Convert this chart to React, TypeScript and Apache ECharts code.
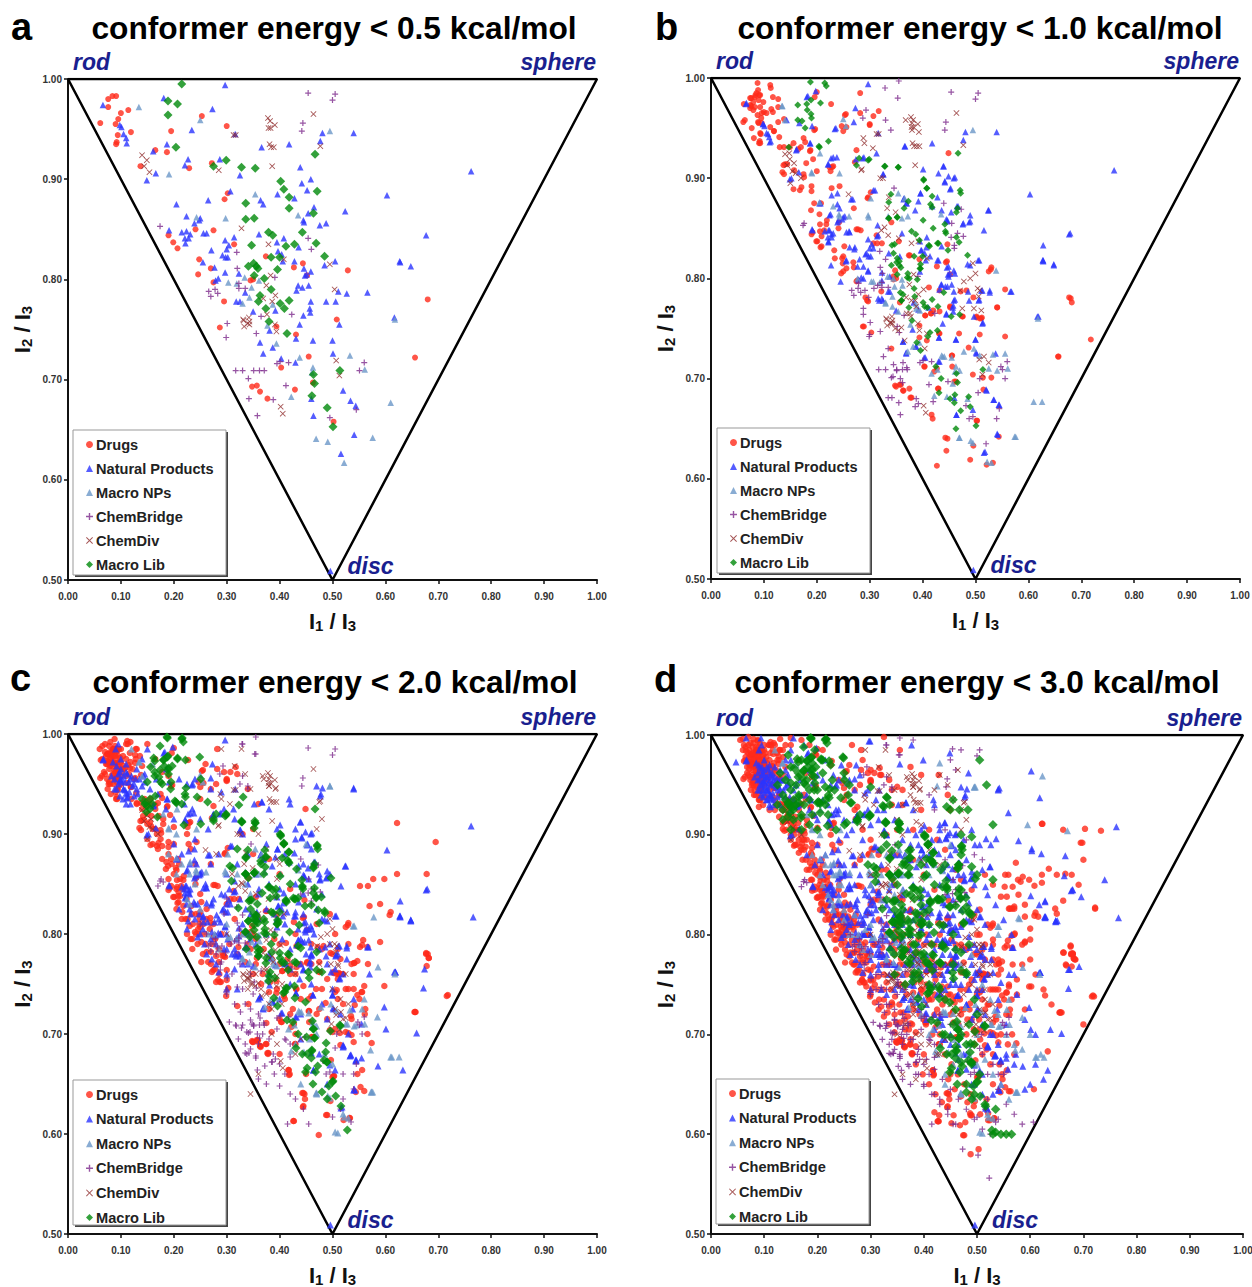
import React, { useEffect, useRef } from "react";
import * as echarts from "echarts";

// All marks: flat x,y pairs in thousandths. Each energy window adds to the one before it.
const drugsA = [61,956,76,972,76,980,84,983,91,983,114,969,100,966,95,960,90,955,119,947,94,944,91,935,92,937,165,929,187,927,137,913,195,948,253,963,300,953,272,916,229,911,302,886,296,880,241,850,275,849,190,844,199,837,207,831,314,835,248,820,270,811,246,805,275,797,295,778,374,823,345,799,350,800,427,812,444,816,452,804,529,809,508,760,287,752,394,753,431,745,455,723,403,712,357,694,348,693,363,688,377,681,429,690,463,697,502,658,656,722,680,780];
const npA = [66,974,181,981,297,994,273,970,234,949,98,954,101,952,105,945,110,941,111,936,161,928,187,935,227,920,221,914,166,906,149,899,287,920,325,904,316,945,366,932,418,935,481,946,477,938,540,946,439,912,442,896,459,900,452,889,603,884,307,888,265,879,364,879,369,875,396,885,428,881,465,872,454,866,445,859,446,857,488,856,476,854,524,868,205,875,224,863,250,861,248,859,239,856,191,849,215,847,224,848,231,845,221,841,228,841,222,836,256,846,262,846,271,829,297,839,314,842,304,834,300,830,292,824,298,822,302,822,361,845,408,841,395,837,436,832,397,828,404,825,406,818,428,818,255,817,277,812,297,807,284,801,279,799,323,806,335,787,432,789,435,794,443,792,455,794,446,811,451,805,448,804,459,808,485,814,505,818,511,788,527,786,566,787,627,818,488,778,506,778,459,778,457,771,458,767,318,778,325,778,350,768,392,769,445,764,617,762,762,908,677,844,628,817,648,813,438,755,381,749,431,741,463,739,500,739,513,755,363,737,387,732,369,726,403,721,430,717,501,726,520,689,534,679,544,674,460,681,464,664,541,645,516,626,496,509];
const mnpA = [134,972,250,959,495,948,191,905,354,885,243,862,298,861,435,864,303,797,319,796,334,802,347,792,361,799,343,782,330,776,387,775,618,760,377,754,394,736,438,722,533,724,463,712,461,707,561,710,422,683,610,677,576,642,469,641,491,638,522,617];
const cbA = [454,986,505,985,500,979,444,956,442,948,174,853,454,841,460,830,319,827,320,811,391,802,266,788,270,783,278,790,283,786,323,796,323,791,335,791,365,763,423,765,301,756,299,742,356,746,395,716,401,718,417,717,317,709,330,709,351,709,362,709,371,709,341,701,412,694,342,681,388,680,358,664,495,662,560,717,551,709,545,670];
const cdA = [464,965,378,961,382,958,391,954,379,951,383,951,313,944,317,944,381,935,384,932,389,932,477,933,140,924,149,919,144,913,154,907,285,909,386,913,328,851,379,835,408,820,495,815,383,804,375,794,504,790,392,784,369,781,386,778,376,765,331,760,342,762,332,759,343,758,340,756,333,753,343,755,391,755,394,748,507,719,513,704,402,673,406,666];
const libA = [215,995,189,978,207,975,189,964,204,932,275,913,299,919,328,912,354,911,467,925,402,898,408,890,418,882,471,888,418,871,464,866,336,876,336,860,352,861,379,847,387,844,443,847,469,836,428,835,412,833,347,834,384,822,400,822,485,823,341,813,351,816,356,813,359,811,396,810,352,804,371,801,384,790,363,784,360,778,374,771,401,776,418,779,409,771,380,758,414,746,464,705,514,709,466,696,461,684,490,672,501,653];

const drugsB = [88,995,112,993,113,990,89,988,86,985,74,980,83,981,93,983,80,976,90,978,99,976,117,981,127,979,62,974,74,973,83,971,93,971,105,965,117,966,127,971,80,968,88,963,96,965,74,970,89,956,64,958,77,950,96,955,112,951,127,956,138,959,119,947,93,945,81,940,93,935,129,941,130,931,138,931,149,931,156,935,175,940,178,936,188,928,170,931,227,974,200,986,196,981,282,985,255,964,282,965,307,962,317,967,300,954,247,952,256,951,250,947,197,949,275,928,449,925,193,919,180,915,140,914,135,906,138,904,144,914,157,908,175,904,176,901,200,907,226,907,231,912,224,911,156,889,171,891,190,892,190,887,168,888,228,890,243,892,195,875,208,875,189,868,205,864,270,870,297,881,219,858,218,854,206,854,192,846,206,847,214,848,201,837,209,842,209,832,233,828,234,820,252,832,250,822,242,856,278,849,283,848,313,843,307,835,323,835,355,837,341,856,447,834,376,823,394,819,446,817,249,815,269,816,256,810,250,807,348,808,345,802,277,798,530,811,525,807,412,791,432,788,472,787,483,788,496,781,556,789,292,781,297,777,452,772,541,771,420,768,405,763,416,765,476,762,502,762,512,761,677,781,682,776,289,752,303,746,718,739,657,722,556,742,541,771,341,730,350,692,359,694,364,688,375,690,379,681,404,712,422,707,427,710,456,712,456,723,430,690,460,697,495,704,514,701,530,701,515,689,417,664,419,660,503,658,443,641,447,640,445,628,427,613,496,633,490,619,521,614,533,616,544,642,487,731,508,744,469,745,432,745,408,738,394,741,475,762,502,761,511,760,405,763,416,765,432,767,452,771,357,776,322,787];
const npB = [198,987,183,982,67,975,143,958,167,955,191,952,99,954,108,944,113,937,236,950,270,956,188,935,162,929,231,921,238,921,274,919,289,921,313,925,367,932,222,914,152,900,326,904,401,909,440,912,430,905,449,902,461,901,442,897,453,890,228,883,239,885,268,879,239,874,243,870,207,875,226,864,253,862,241,858,310,888,365,880,370,875,392,877,386,868,396,885,418,872,436,868,447,858,477,855,490,857,490,863,467,872,525,868,516,848,679,845,628,833,628,818,648,814,192,848,222,848,228,844,222,837,261,847,315,853,316,843,262,831,272,831,294,825,307,830,336,825,357,822,407,831,398,828,414,822,430,818,507,818,490,813,227,813,256,818,281,819,288,812,297,808,288,800,245,797,323,798,338,802,395,807,449,812,461,805,449,802,436,794,447,792,459,787,486,787,513,788,527,788,568,787,338,787,316,780,323,780,383,776,461,779,507,779,411,771,458,773,445,765,497,762,514,756,619,762,431,741,405,721,432,717,369,725,363,737,388,732,463,739,500,739,502,725,538,725,521,688,535,679,545,674,464,664,495,669,542,644,518,627];
const mnpB = [135,972,140,958,206,925,255,952,190,906,243,905,302,880,366,880,231,872,205,876,242,864,261,862,297,863,335,862,361,860,372,862,539,808,277,800,307,797,345,800,362,793,330,775,343,772,354,767,388,770,395,768,497,730,478,727,436,723,455,721,441,722,372,727,382,732,417,705,428,709,470,708,457,695,446,682,485,680,508,723,556,725,626,677,541,708,525,710,470,641,495,636,574,642,530,616];
const cbB = [355,997,329,990,353,980,293,968,287,960,330,958,340,948,176,855,346,890,440,875,473,869,455,855,466,845,477,842,460,833,330,819,324,805,315,793,279,795,291,788,298,781,308,790,288,770,288,764,320,747,300,744,352,752,335,730,326,722,345,714,363,716,370,711,344,702,351,708,358,700,362,696,335,681,355,676,392,675,420,677,448,697,508,700,548,712,556,700,505,686,482,673,386,672,488,660,520,635,540,660];
const cdB = [288,940,306,930,290,935,368,958,380,955,393,946,380,948,394,932,148,925,157,915,170,900,160,905,150,895,320,900,284,908,336,881,325,900,333,870,349,866,260,884,355,840,322,848,335,843,392,837,500,805,490,800,478,797,471,788,402,789,508,788,506,782,497,770,511,768,379,778,388,772,370,765,378,762,340,755,348,750,354,748,366,738,360,751,408,745,404,730,475,770,516,722,525,716];
const libB = [188,996,218,992,164,973,181,974,182,968,164,958,172,957,190,960,178,950,222,937,205,931,147,931,280,920,297,918,329,912,354,911,402,899,408,890,472,885,340,884,373,877,365,870,336,860,352,861,415,874,401,858,420,850,466,870,442,854,464,841,444,845,448,828,430,835,342,833,394,838,413,832,345,825,352,820,356,817,396,814,395,810,372,805,375,800,390,799,358,786,385,782,360,778,440,786,404,772,429,772,454,762,470,764,428,748,410,742,389,736,396,728,425,712,435,700,431,686,452,680,460,676,472,668,463,650,487,682];

const drugsC = [60,985,70,990,80,992,85,985,75,980,90,985,95,978,65,975,72,970,82,975,88,970,78,965,92,965,85,960,98,972,105,968,110,975,100,985,110,990,118,992,130,985,128,975,70,960,80,950,88,955,75,945,90,942,100,950,115,960,125,955,140,968,150,990,165,975,178,962,190,958,120,935,130,930,140,925,145,935,150,920,155,912,160,905,165,925,172,918,180,910,150,895,160,890,170,885,178,875,190,880,200,890,210,870,225,900,232,885,240,870,165,905,175,895,185,865,190,855,200,860,205,845,212,838,218,828,222,815,230,808,240,802,235,795,245,790,255,780,265,772,272,762,280,752,195,848,205,825,215,815,225,800,235,785,248,800,260,790,270,782,285,772,300,764,250,840,262,825,275,810,290,800,305,790,320,780,335,772,350,760,365,750,380,742,300,830,315,815,330,800,345,785,355,770,368,760,382,752,395,745,410,735,425,725,400,790,415,775,430,760,445,748,460,738,475,725,490,715,505,705,460,790,475,772,490,755,505,742,520,730,535,718,500,780,515,760,530,745,608,819,590,792,677,780,682,776,678,768,716,738,655,722,598,748,567,770,547,773,536,770,558,794,552,787,566,787,560,748,555,742,547,739,551,735,562,725,561,720,542,729,536,715,566,700,574,691,556,664,547,660,553,647,560,643,532,616,488,619,474,599,426,613,275,764,284,754,300,754,299,738,320,728,375,711,385,702,349,692,358,693,364,687,374,690,378,680,417,664,418,659,445,641,448,635,444,627,500,702,525,702,536,699,540,692,497,674,500,657,622,911,695,892,622,860,678,860,598,855,577,855,567,848,552,848,570,828,590,830,610,822,330,900,350,880,270,945,250,935,300,955,295,962,280,950,260,970,320,960,340,945,360,930,350,905,380,875,400,860,420,845,360,815,390,795,430,800,470,810,495,820,505,800,530,790,515,775,540,760,510,735,470,720,430,700,400,680,450,660];
const drugsC2 = [65,988,70,982,78,988,84,978,92,972,76,972,68,962,74,955,84,968,94,958,102,962,110,958,80,982,88,978,96,985,104,978,72,978,86,972,94,968,100,972,108,966,90,962,82,958,78,952,86,950,96,948,92,952,100,958,118,972,122,965,128,985,136,978,148,928,155,930,142,918,150,910,158,918,168,900,178,888,186,872,196,870,204,866,212,855,218,845,224,835,208,838,216,822,226,815,236,810,242,820,232,795,242,800,248,810,252,792,258,800,262,815,268,805,272,790,278,795,280,778,285,785,292,778,252,772,262,782,270,770,278,765,286,760,340,790,355,795,370,785,385,775,400,770,420,760,440,770,460,770,480,785,510,755,525,745,540,745,480,745,455,735,440,735,420,720,400,715,380,725,510,785,520,760];
const npC = [95,990,90,985,82,958,88,945,85,972,95,960,100,965,105,958,110,962,115,952,120,958,125,950,130,945,95,950,105,945,112,940,118,930,125,938,135,955,145,952,155,945,130,965,140,975,150,985,186,965,210,955,225,950,240,955,270,945,290,942,170,940,185,925,200,915,220,930,235,925,250,915,265,905,275,920,295,925,315,915,330,900,352,930,380,925,420,930,470,948,478,940,540,945,200,890,215,880,230,870,240,895,250,860,270,870,285,880,300,860,320,870,340,880,355,860,375,890,395,905,410,880,430,895,445,870,460,885,455,855,475,860,480,840,495,860,445,840,430,850,400,845,380,850,360,840,340,850,325,835,305,845,290,840,275,835,260,850,245,830,230,825,220,845,210,825,225,805,240,815,255,805,270,795,285,815,300,800,315,785,330,810,345,795,360,780,375,800,390,820,405,795,420,785,435,805,450,780,465,800,480,815,495,790,510,780,527,775,262,780,280,770,300,760,320,745,340,770,360,735,380,760,400,735,420,750,440,720,460,750,480,730,500,745,520,760,540,735,555,710,570,760,598,727,601,705,659,701,674,765,672,746,619,762,648,814,766,817,586,668,633,664,555,676,544,673,533,678,540,644,520,687,475,680,505,664,440,695,490,650];
const npC2 = [92,968,98,962,102,955,108,952,112,960,118,955,88,955,92,945,98,938,104,935,110,930,116,942,122,948,128,955,132,940,140,948,145,960,100,975,110,970,230,840,238,832,224,830,232,820,240,830,248,820,256,812,250,800,258,790,264,812,272,802,280,790,288,800,295,785,302,795,310,780,318,795,272,775,285,762,300,785,345,820,360,815,375,825,395,815,410,810,430,822,445,820,455,805,470,825,440,795,460,780,475,785,440,770,410,770,420,765,490,770,505,765,380,780,355,790,340,800,330,770,315,765,300,745,490,715,515,720,530,700];
const mnpC = [120,985,160,970,180,920,205,900,190,880,215,870,230,860,205,860,225,835,230,830,240,850,250,825,320,860,335,850,345,840,265,800,330,800,402,860,450,890,495,948,578,817,541,808,586,767,560,735,585,717,572,684,612,677,573,642,545,709,528,710,510,601,520,620,300,810,285,785,470,700,430,690,500,670,440,650,470,640,505,602];
const cbC = [330,990,355,980,325,950,340,945,180,852,170,848,460,845,440,840,295,820,300,835,250,810,262,800,270,790,280,780,290,772,310,760,325,770,345,760,330,745,350,740,300,740,315,730,345,725,360,720,305,712,318,708,328,706,338,702,348,710,368,700,322,695,335,690,345,685,360,690,380,695,395,705,410,695,420,690,338,680,355,678,372,668,385,672,400,670,410,660,360,655,375,650,390,660,400,648,420,640,430,635,445,625,415,610,455,610,500,617,535,612,515,625,520,660,540,645];
const cdC = [290,985,315,968,328,985,335,960,345,945,370,955,380,948,392,945,475,932,480,915,470,905,360,900,375,885,395,875,400,870,280,880,310,860,330,850,300,800,360,820,395,855,355,760,345,750,340,745,365,745,375,740,380,730,385,725,395,758,405,750,420,772,430,760,385,700,395,690,345,640,360,660,495,790,510,770,525,760,500,745,515,735,505,725,520,715,530,730,498,710,430,680,440,695];
const libC = [187,997,216,996,174,988,162,976,188,977,180,974,207,976,222,974,249,977,156,967,164,962,174,964,190,966,197,968,150,952,175,952,195,952,251,955,194,945,223,946,221,940,244,937,202,933,215,930,264,932,331,937,323,929,299,920,275,915,328,913,353,913,352,906,219,909,251,910,169,917,140,935,145,930,150,928,155,935,148,922,155,925,160,930,165,938,401,900,408,891,471,889,320,885,372,884,375,877,417,882,336,877,364,873,405,876,417,872,373,867,306,868,311,866,432,865,464,867,370,860,353,862,335,860,341,856,309,853,497,856,443,848,466,846,381,847,393,845,367,841,344,834,358,830,382,836,412,834,426,836,435,836,469,837,479,837,460,829,322,826,388,821,473,824,486,821,356,819,370,815,341,813,352,809,398,812,437,809,475,811,335,802,344,797,419,802,336,802,353,814,372,812,357,797,337,785,359,782,375,776,400,781,416,780,470,782,435,788,382,762,391,756,379,753,416,764,432,771,456,756,480,762,412,746,407,741,429,736,449,732,414,714,462,713,464,705,496,703,515,708,451,697,466,696,488,691,461,683,443,680,484,674,489,672,452,666,449,662,468,662,500,652,493,648,480,642,506,638,490,635,516,628,528,604];

const drugsD = [55,995,62,990,70,998,80,996,72,985,85,988,92,992,100,990,65,978,75,975,68,968,82,970,90,975,98,980,78,960,86,958,94,965,105,972,112,982,120,990,130,996,140,990,150,997,82,945,92,950,100,955,108,960,116,968,125,975,135,985,90,935,100,938,110,945,118,950,128,958,170,995,185,990,198,980,265,990,285,975,325,998,355,985,375,968,395,960,300,965,318,960,335,955,350,948,428,960,120,925,128,918,135,912,142,905,150,900,158,890,165,882,172,875,180,865,188,855,195,845,202,838,212,828,220,820,228,810,236,802,244,795,252,785,260,778,268,770,276,762,284,755,292,748,300,740,308,732,315,725,325,718,335,710,345,702,355,695,145,920,155,905,165,895,175,885,185,878,195,868,205,858,215,848,225,835,235,825,245,815,255,805,265,795,275,785,285,775,295,765,305,755,315,745,325,735,335,728,345,720,355,712,365,705,375,695,385,688,260,830,272,820,284,810,296,800,308,790,320,780,332,770,344,760,356,750,368,740,380,730,392,720,404,710,416,700,428,690,440,680,452,670,464,660,476,650,488,640,330,810,345,795,360,780,375,770,390,760,405,750,420,740,435,730,450,720,465,710,480,700,495,690,510,680,525,670,440,790,455,775,470,762,485,750,500,740,515,725,530,712,545,700,558,690,570,680,500,800,515,790,530,775,545,765,560,750,575,740,590,725,570,800,585,790,600,806,615,818,590,818,590,793,600,775,610,760,625,745,640,730,573,872,559,860,553,860,586,858,582,853,608,849,622,852,578,840,556,838,545,838,562,826,566,826,570,826,676,789,662,782,680,781,685,775,667,770,571,801,565,799,733,904,703,906,662,905,698,892,700,875,623,911,635,866,650,860,666,861,691,850,722,827,662,834,647,826,650,821,420,622,429,619,428,613,476,599,503,585,488,580,468,609,478,612,452,611,456,619,487,621,524,614,521,621,563,643,607,645,633,683,700,710,720,738,659,722,628,739,602,748,684,775,680,781,676,788,668,769,663,782,722,826,560,826,530,850,515,860,490,845,470,855,460,865,440,885,425,895,410,905,395,925,380,905,360,945,340,930,445,940,280,875,305,885,320,865];
const drugsD2 = [60,996,66,984,74,992,78,982,88,994,94,984,102,982,108,990,116,985,124,982,68,974,72,966,78,970,84,964,90,968,96,972,74,958,80,954,86,948,92,958,100,964,106,956,112,964,120,962,84,940,90,928,98,930,104,938,110,925,116,938,122,930,128,940,134,925,140,930,148,915,156,900,164,912,172,895,180,895,188,882,196,862,204,850,212,840,220,830,228,818,236,820,244,808,252,798,260,808,268,782,276,772,284,790,292,772,300,755,308,750,316,735,324,745,332,722,340,732,348,712,356,722,364,715,372,705,216,862,224,850,232,840,240,845,250,828,258,818,266,808,274,795,282,782,290,792,298,780,306,768,314,758,322,770,330,752,338,745,346,738,354,730,362,722,370,718,378,710,350,810,362,800,374,790,386,782,398,775,410,765,422,755,434,748,446,740,458,732,470,725,482,715,494,705,506,695,518,685,530,680,542,670,385,670,398,660,410,650,422,640,434,632,446,655,458,645,470,638,482,632,494,628,506,620,518,635,530,650,548,655,555,720,565,735,575,755,585,770,600,795,540,775,530,795,520,810,505,825,490,815,470,790,452,795,436,810,420,790,405,800,390,810,375,825,360,835,345,850,330,865,315,880,300,895,285,905,270,925,255,940,240,955,225,970,210,985,300,780,325,760,345,780,362,770,380,760,398,745,415,735,432,720,450,740,468,735,486,725,504,715,522,730,535,745];
const npD = [47,973,66,997,94,997,155,997,299,994,377,990,449,982,399,975,355,971,484,962,602,964,618,937,542,947,559,922,578,894,603,886,621,881,666,879,696,838,680,845,740,855,664,859,601,839,617,830,628,834,651,814,629,818,692,768,672,765,536,896,517,896,526,890,496,890,90,970,95,965,100,960,105,968,110,955,115,962,120,950,92,950,98,945,106,948,112,940,118,935,125,945,132,955,140,965,150,975,175,990,130,930,140,938,150,925,165,930,180,940,195,920,210,935,225,910,240,925,255,900,270,915,285,895,300,910,315,885,330,900,345,880,360,895,375,875,390,890,405,870,420,885,435,865,450,880,465,860,480,875,495,850,510,865,180,880,195,870,210,860,225,850,240,840,255,830,270,820,285,810,300,800,315,790,330,780,345,770,360,760,375,750,390,740,405,730,420,720,435,710,450,700,465,690,480,680,495,670,510,660,300,850,315,840,330,830,345,820,360,810,375,800,390,790,405,780,420,770,435,760,450,750,465,740,480,730,495,720,510,710,525,700,540,690,555,680,570,670,440,830,455,820,470,808,485,798,500,785,515,775,530,762,545,752,520,840,535,830,550,815,565,800,560,760,575,740,590,715,610,700,638,705,610,670,625,655,600,650,590,645,573,680,558,665,545,650,530,640,520,625];
const npD2 = [88,962,92,956,96,968,100,948,104,958,108,966,112,950,116,958,120,968,124,956,128,948,94,940,100,942,106,935,112,928,136,945,144,950,148,938,156,935,160,950,240,860,250,870,260,860,270,850,280,860,290,845,300,835,310,825,320,815,335,845,350,835,365,825,380,815,395,805,410,800,425,795,440,810,455,835,470,838,485,832,500,825,515,810,330,795,345,810,360,795,375,785,390,775,405,765,420,760,435,780,450,770,465,770,480,760,495,755,510,745,305,815,320,800,335,760,350,750,365,770,380,770,395,760,410,750,425,740,440,745,455,755,470,750,485,745,500,760,260,810,275,825,290,820,300,775,315,770,330,740,345,745,360,745,375,735,390,725,405,715,420,705,435,695,450,690,465,675,480,665,495,650,510,640,355,880,370,905,385,900,400,880,415,895,430,910,445,900,460,910,475,895,490,905,505,890,345,915,325,925,310,935,295,945,280,960,260,955,245,970,230,960,215,975,200,960];
const mnpD = [623,959,430,972,595,910,670,904,425,949,497,948,580,816,540,800,215,880,225,870,235,860,245,850,210,850,220,840,230,825,240,835,250,815,260,800,270,820,280,790,290,805,300,780,330,880,345,860,360,845,375,860,390,875,410,860,420,870,300,850,320,835,470,770,490,780,510,750,525,735,540,720,555,700,570,690,585,685,600,700,620,680,500,700,485,690,470,680,455,670,515,675,530,660,545,650,560,635,440,660,425,680,410,700,395,720,380,740];
const cbD = [380,995,450,975,460,965,470,985,330,711,343,681,352,668,523,556,473,585,502,579,606,612,330,730,345,715,360,705,375,695,390,685,405,675,420,665,435,655,450,645,465,635,480,625,495,615,510,605,525,600,540,615,555,630,570,620,585,610,340,695,355,680,370,670,385,660,400,650,415,640,430,630,445,620,460,610,310,745,320,760,335,770,350,755,365,745,380,735,395,725,410,715,430,720,450,710,470,700,490,690,510,680,530,670,550,660,440,905,480,895,495,880,510,875,410,940,420,925];
const cdD = [430,960,445,950,420,945,455,935,470,925,385,925,375,940,360,930,350,915,395,910,410,885,430,870,300,860,320,850,340,835,360,790,375,780,390,770,405,760,420,750,435,740,450,730,465,720,480,710,495,700,510,790,525,770,505,760,490,750,515,745,475,740,445,770,380,720,365,710,350,700,395,700,410,690,425,680,385,655];
const libD = [188,997,216,996,145,980,170,975,195,985,130,962,150,968,175,965,190,972,210,975,225,970,248,978,125,950,140,955,160,950,180,955,195,958,210,962,228,955,250,962,260,950,135,940,150,945,165,940,185,945,200,945,215,948,232,945,258,940,262,932,125,930,135,925,145,932,155,928,165,932,175,930,185,935,200,932,215,935,135,915,145,918,155,915,170,920,190,920,205,922,220,920,150,905,170,905,185,910,200,905,235,905,255,912,275,915,300,948,330,938,336,930,325,928,443,928,455,935,450,925,505,975,518,950,470,900,483,925,490,898,530,910,326,900,355,905,352,890,330,890,470,880,360,870,375,885,395,870,412,875,372,860,405,860,435,848,440,870,465,870,490,868,500,860,530,855,330,835,350,850,375,840,310,860,295,870,345,812,360,825,385,815,395,830,410,825,425,835,450,828,470,845,480,828,360,800,375,805,395,800,410,810,430,810,455,800,475,812,490,820,365,785,380,790,395,780,415,790,435,790,460,785,485,790,345,780,370,772,390,762,410,770,430,772,455,770,480,760,345,760,365,750,410,750,430,745,440,735,460,725,495,735,485,710,500,720,470,700,455,710,440,700,460,688,480,690,495,690,470,672,490,670,505,660,480,650,495,640,515,630,535,625,530,600,535,602,545,600,555,600,565,600];

const names = ["Drugs", "Natural Products", "Macro NPs", "ChemBridge", "ChemDiv", "Macro Lib"];
const xTicksFmt = (v: number) => v.toFixed(2);
const pairs = (...lists: number[][]) => {
  const out: number[][] = [];
  lists.forEach((l) => { for (let i = 0; i + 1 < l.length; i += 2) out.push([l[i] / 1000, l[i + 1] / 1000]); });
  return out;
};
const triangle = [[0, 1], [1, 1], [0.5, 0.5], [0, 1]];

const panelData = [
  [[drugsA], [npA], [mnpA], [cbA], [cdA], [libA]],
  [[drugsA, drugsB], [npA, npB], [mnpA, mnpB], [cbA, cbB], [cdA, cdB], [libA, libB]],
  [[drugsA, drugsB, drugsC, drugsC2], [npA, npB, npC, npC2], [mnpA, mnpB, mnpC], [cbA, cbB, cbC], [cdA, cdB, cdC], [libA, libB, libC]],
  [[drugsA, drugsB, drugsC, drugsC2, drugsD, drugsD2], [npA, npB, npC, npC2, npD, npD2], [mnpA, mnpB, mnpC, mnpD], [cbA, cbB, cbC, cbD], [cdA, cdB, cdC, cdD], [libA, libB, libC, libD]],
];
const titles = ["conformer energy < 0.5 kcal/mol", "conformer energy < 1.0 kcal/mol", "conformer energy < 2.0 kcal/mol", "conformer energy < 3.0 kcal/mol"];
const letters = ["a", "b", "c", "d"];
const grids = [
  { left: 68, top: 79, width: 529, height: 501, lx: 22, ly: 30, tx: 334, ty: 28, legTop: 430, legLeft: 73, gap: 9 },
  { left: 711, top: 78, width: 529, height: 501, lx: 666, ly: 30, tx: 980, ty: 28, legTop: 428, legLeft: 717, gap: 9 },
  { left: 68, top: 734, width: 529, height: 500, lx: 21, ly: 681, tx: 335, ty: 682, legTop: 1080, legLeft: 73, gap: 9.6 },
  { left: 711, top: 735, width: 532, height: 499, lx: 665, ly: 682, tx: 977, ty: 682, legTop: 1079, legLeft: 716, gap: 9.6 },
];
const colors = ["#ff2a1a", "#2a35ff", "#6b97c8", "#7d2a8c", "#8f2a2a", "#008a0a"];
const symbols = ["circle", "triangle", "triangle", "path://M4 0H6V4H10V6H6V10H4V6H0V4H4Z", "path://M1 0L5 4L9 0L10 1L6 5L10 9L9 10L5 6L1 10L0 9L4 5L0 1Z", "diamond"];
const sizesByPanel = [
  [6, 6.5, 6.5, 6, 6, 9],
  [6, 6.5, 6.5, 6, 6, 7],
  [6.5, 7, 7, 6, 6, 9],
  [6.5, 7, 7, 6, 6, 9.5],
];
const font = "'Liberation Sans', Arial, sans-serif";
const rich = {
  m: { fontFamily: font, fontWeight: "bold", fontSize: 22, color: "#111" },
  s: { fontFamily: font, fontWeight: "bold", fontSize: 15, color: "#111", verticalAlign: "bottom", padding: [9, 0, 0, 0] },
};

export default function App() {
  const ref = useRef<HTMLDivElement>(null);
  useEffect(() => {
    const chart = echarts.init(ref.current!, undefined, { renderer: "svg" });
    const series: any[] = [];
    const graphic: any[] = [];
    const legends: any[] = [];
    grids.forEach((g, i) => {
      series.push({
        type: "line", xAxisIndex: i, yAxisIndex: i, data: triangle, symbol: "none", silent: true,
        lineStyle: { color: "#000", width: 2.5 }, z: 1, legendHoverLink: false,
      });
      names.forEach((n, k) => {
        series.push({
          type: "scatter", name: n, xAxisIndex: i, yAxisIndex: i,
          data: pairs(...panelData[i][k]), symbol: symbols[k],
          symbolSize: sizesByPanel[i][k],
          itemStyle: { color: colors[k] }, z: 2 + k,
        });
      });
      graphic.push(
        { type: "text", left: g.lx - 11, top: g.ly - 22, style: { text: letters[i], font: `bold 38px ${font}`, fill: "#000" } },
        { type: "text", x: g.tx, y: g.ty, style: { text: titles[i], font: `bold 31.7px ${font}`, fill: "#000", textAlign: "center", textVerticalAlign: "middle" } },
        { type: "text", x: g.left + 5, y: g.top - 17, style: { text: "rod", font: `italic bold 23px ${font}`, fill: "#1a1f8f", textVerticalAlign: "middle" } },
        { type: "text", x: g.left + g.width - 1, y: g.top - 17, style: { text: "sphere", font: `italic bold 23px ${font}`, fill: "#1a1f8f", textAlign: "right", textVerticalAlign: "middle" } },
        { type: "text", x: g.left + g.width / 2 + 15, y: g.top + g.height - 14, style: { text: "disc", font: `italic bold 23px ${font}`, fill: "#1a1f8f", textVerticalAlign: "middle" } },
        { type: "rect", z: 40, shape: { x: g.legLeft + 2, y: g.legTop + 2, width: 153, height: 145 }, style: { fill: "#444" } },
        { type: "rect", z: 41, shape: { x: g.legLeft, y: g.legTop, width: 153, height: 145 }, style: { fill: "#fff", stroke: "#999", lineWidth: 1 } },
      );
      legends.push({
        data: names, orient: "vertical", left: g.legLeft + 8, top: g.legTop + 2, z: 50,
        itemWidth: 7, itemHeight: 7, itemGap: g.gap, selectedMode: false,
        textStyle: { fontFamily: font, fontWeight: "bold", fontSize: 14.6, color: "#222", lineHeight: 14, padding: [0, 0, 0, -2] },
      });
    });
    chart.setOption({
      animation: false,
      backgroundColor: "#fff",
      grid: grids.map((g) => ({ left: g.left, top: g.top, width: g.width, height: g.height, outerBoundsMode: "none", containLabel: false })),
      xAxis: grids.map((g, i) => ({
        type: "value", gridIndex: i, min: 0, max: 1, interval: 0.1, splitLine: { show: false },
        axisLine: { onZero: false, lineStyle: { color: "#111", width: 2 } },
        axisTick: { length: 4, lineStyle: { color: "#111", width: 1.5 } },
        axisLabel: { formatter: xTicksFmt, fontFamily: font, fontWeight: "bold", fontSize: 10, color: "#333", margin: 11 },
        name: "{m|I}{s|1}{m| / I}{s|3}", nameLocation: "middle", nameGap: 29,
        nameTextStyle: { rich },
      })),
      yAxis: grids.map((g, i) => ({
        type: "value", gridIndex: i, min: 0.5, max: 1, interval: 0.1, splitLine: { show: false },
        axisLine: { onZero: false, lineStyle: { color: "#111", width: 2 } },
        axisTick: { length: 4, lineStyle: { color: "#111", width: 1.5 } },
        axisLabel: { formatter: xTicksFmt, fontFamily: font, fontWeight: "bold", fontSize: 10, color: "#333", margin: 6 },
        name: "{m|I}{s|2}{m| / I}{s|3}", nameLocation: "middle", nameGap: 34, nameRotate: 90,
        nameTextStyle: { rich },
      })),
      legend: legends,
      graphic: { elements: graphic },
      series,
    });
    return () => chart.dispose();
  }, []);
  return <div ref={ref} style={{ position: "absolute", left: 0, top: 0, width: 1252, height: 1287 }} />;
}
